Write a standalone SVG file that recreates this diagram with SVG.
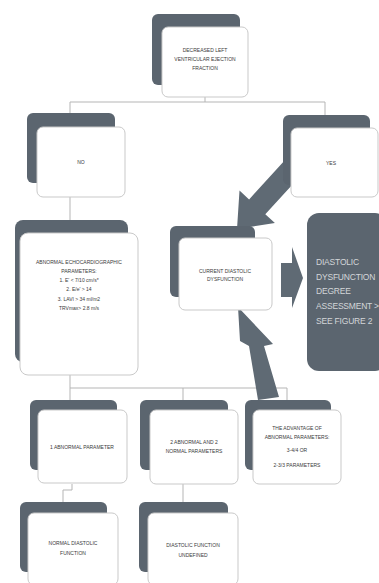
<svg xmlns="http://www.w3.org/2000/svg" width="379" height="583" viewBox="0 0 379 583">
<style>
.back{fill:#5b656f;}
.front{fill:#ffffff;stroke:#c9c9c9;stroke-width:1;}
.t{font-family:"Liberation Sans",Arial,sans-serif;font-size:5px;fill:#3a3a3a;text-anchor:middle;}
.big{font-family:"Liberation Sans",Arial,sans-serif;font-size:8.5px;fill:#d3d6d9;letter-spacing:-0.2px;}
.conn{fill:none;stroke:#b5b5b5;stroke-width:1;}
.arrow{fill:#5f6a74;}
</style>
<rect width="379" height="583" fill="#ffffff"/>
<g id="connectors">
<path class="conn" d="M205,97 V102 M70,102 H325 M70,102 V114 M325,102 V116 M70,197 V221"/>
<path class="conn" d="M70,375 V388 H287 M70,388 V401 M183,388 V401 M287,388 V401"/>
<path class="conn" d="M72,484 V490 H63 V503 M183,484 V503"/>
<polygon class="arrow" points="291.9,152.6 249.1,199.4 239.5,190.6 237,229 274.9,223 265.3,214.2 308.1,167.4"/>
<polygon class="arrow" points="258,400 249,346 240,341 238,307 273,344 264,346 279,397"/>
<polygon class="arrow" points="281,263 292,263 292,247 303,278 292,308 292,297 281,297"/>
</g>
<g id="node-top">
<rect class="back" x="152" y="14" width="88" height="71" rx="6"/>
<rect class="front" x="162" y="27" width="86" height="70" rx="6"/>
<text class="t" x="205" y="52">DECREASED LEFT</text>
<text class="t" x="205" y="61">VENTRICULAR EJECTION</text>
<text class="t" x="205" y="70">FRACTION</text>
</g>
<g id="node-no">
<rect class="back" x="27" y="113" width="88" height="70" rx="6"/>
<rect class="front" x="37" y="127" width="88" height="70" rx="6"/>
<text class="t" x="81" y="164">NO</text>
</g>
<g id="node-yes">
<rect class="back" x="283" y="115" width="87" height="70" rx="6"/>
<rect class="front" x="291" y="128" width="87" height="69" rx="6"/>
<text class="t" x="331" y="165">YES</text>
</g>
<g id="node-abnormal">
<rect class="back" x="15" y="220" width="113" height="142" rx="8"/>
<rect class="front" x="20" y="233" width="118" height="142" rx="8"/>
<text class="t" x="79" y="264">ABNORMAL ECHOCARDIOGRAPHIC</text>
<text class="t" x="79" y="273">PARAMETERS:</text>
<text class="t" x="79" y="282">1. E' &lt; 7/10 cm/s*</text>
<text class="t" x="79" y="291">2. E/e' &gt; 14</text>
<text class="t" x="79" y="301">3. LAVI &gt; 34 ml/m2</text>
<text class="t" x="79" y="310">TRVmax&gt; 2.8 m/s</text>
</g>
<g id="node-current">
<rect class="back" x="170" y="226" width="85" height="71" rx="6"/>
<rect class="front" x="179" y="238" width="93" height="72" rx="6"/>
<text class="t" x="225" y="273">CURRENT DIASTOLIC</text>
<text class="t" x="225" y="281">DYSFUNCTION</text>
</g>
<g id="node-degree">
<rect class="back" x="307" y="213" width="80" height="158" rx="12"/>
<text class="big" x="316" y="265">DIASTOLIC</text>
<text class="big" x="316" y="280">DYSFUNCTION</text>
<text class="big" x="316" y="294">DEGREE</text>
<text class="big" x="316" y="309">ASSESSMENT &gt;</text>
<text class="big" x="316" y="324">SEE FIGURE 2</text>
</g>
<g id="node-one">
<rect class="back" x="30" y="400" width="87" height="70" rx="6"/>
<rect class="front" x="38" y="410" width="89" height="73" rx="6"/>
<text class="t" x="82" y="449">1 ABNORMAL PARAMETER</text>
</g>
<g id="node-two">
<rect class="back" x="140" y="400" width="88" height="70" rx="6"/>
<rect class="front" x="150" y="410" width="88" height="74" rx="6"/>
<text class="t" x="194" y="444">2 ABNORMAL AND 2</text>
<text class="t" x="194" y="453">NORMAL PARAMETERS</text>
</g>
<g id="node-three">
<rect class="back" x="245" y="400" width="86" height="70" rx="6"/>
<rect class="front" x="253" y="410" width="88" height="74" rx="6"/>
<text class="t" x="297" y="430">THE ADVANTAGE OF</text>
<text class="t" x="297" y="439">ABNORMAL PARAMETERS:</text>
<text class="t" x="297" y="452">3-4/4 OR</text>
<text class="t" x="297" y="467">2-3/3 PARAMETERS</text>
</g>
<g id="node-normal">
<rect class="back" x="20" y="502" width="87" height="70" rx="6"/>
<rect class="front" x="28" y="513" width="90" height="72" rx="6"/>
<text class="t" x="73" y="545">NORMAL DIASTOLIC</text>
<text class="t" x="73" y="555">FUNCTION</text>
</g>
<g id="node-undefined">
<rect class="back" x="139" y="502" width="89" height="70" rx="6"/>
<rect class="front" x="148" y="513" width="90" height="72" rx="6"/>
<text class="t" x="193" y="547">DIASTOLIC FUNCTION</text>
<text class="t" x="193" y="557">UNDEFINED</text>
</g>
</svg>
